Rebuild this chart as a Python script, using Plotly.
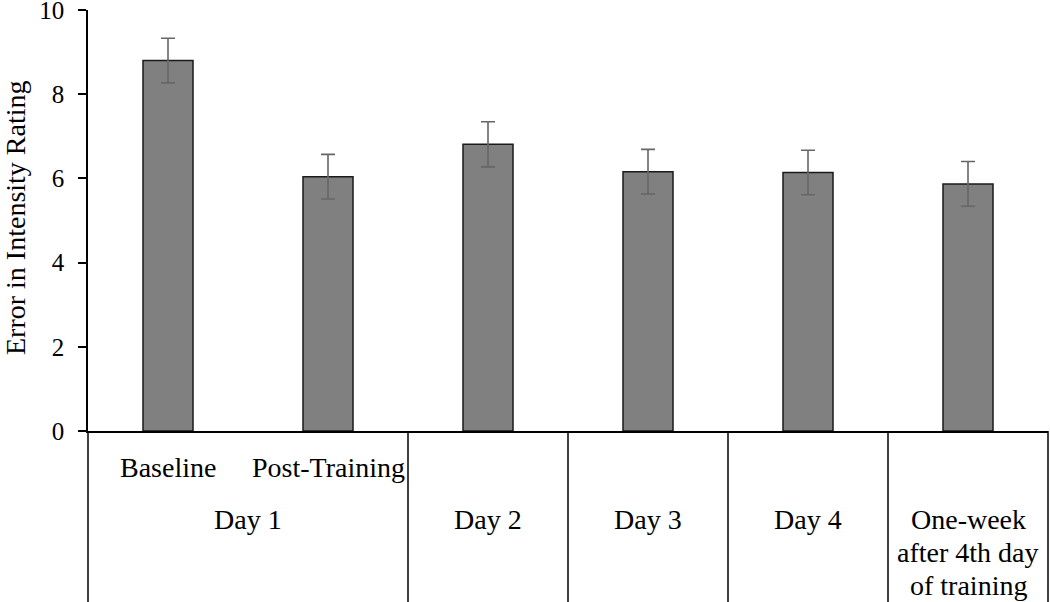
import plotly.graph_objects as go

# Data
conditions = ["Baseline", "Post-Training", "Day 2", "Day 3", "Day 4", "One-week"]
sub_labels = ["Baseline", "Post-Training", "", "", "", ""]
group_labels = ["Day 1", "Day 2", "Day 3", "Day 4", "One-week<br>after 4th day<br>of training"]
group_spans = [[0, 1], [2, 2], [3, 3], [4, 4], [5, 5]]
means = [8.80, 6.04, 6.81, 6.16, 6.14, 5.87]
errors = [0.53, 0.53, 0.535, 0.53, 0.53, 0.53]
y_ticks = [0, 2, 4, 6, 8, 10]
y_title = "Error in Intensity Rating"

FONT = "Liberation Serif, Times New Roman, serif"
n = len(conditions)
xs = list(range(n))

fig = go.Figure()
fig.add_trace(go.Bar(
    x=xs, y=means, width=0.3125,
    marker=dict(color="#808080", line=dict(color="#1a1a1a", width=1.5)),
    error_y=dict(type="data", array=errors, visible=True, color="#666666",
                 thickness=1.6, width=7),
))

ML, MR, MT, MB = 88, 2, 10, 171
FIG_W, FIG_H = 1050, 602
H_PLOT = FIG_H - MT - MB
W_PLOT = FIG_W - ML - MR
bottom_frac = -MB / H_PLOT

shapes = []
boundaries = [-0.5] + [span[1] + 0.5 for span in group_spans]
for b in boundaries:
    xp = (b + 0.5) / n
    shapes.append(dict(type="line", xref="paper", yref="paper", x0=xp, x1=xp,
                       y0=0, y1=bottom_frac, line=dict(color="black", width=1.5)))

lab_font = dict(family=FONT, size=28, color="black")
annotations = []
for i, lab in enumerate(sub_labels):
    if lab:
        annotations.append(dict(x=i, y=-36.0 / H_PLOT, xref="x", yref="paper", text=lab,
                                showarrow=False, font=lab_font,
                                xanchor="center", yanchor="middle"))
line_offsets = [88.0, 121.0, 154.0]
for lab, span in zip(group_labels, group_spans):
    xc = (span[0] + span[1]) / 2
    for k, line in enumerate(lab.split("<br>")):
        annotations.append(dict(x=xc, y=-line_offsets[k] / H_PLOT, xref="x", yref="paper",
                                text=line, showarrow=False, font=lab_font,
                                xanchor="center", yanchor="middle"))
annotations.append(dict(x=(15.0 - ML) / W_PLOT, y=(431.0 - 218.0) / H_PLOT,
                        xref="paper", yref="paper", text=y_title, textangle=-90,
                        showarrow=False, font=lab_font, xanchor="center", yanchor="middle"))

fig.update_layout(
    width=FIG_W, height=FIG_H,
    margin=dict(l=ML, r=MR, t=MT, b=MB, autoexpand=False),
    paper_bgcolor="white", plot_bgcolor="white",
    showlegend=False,
    font=dict(family=FONT, size=25, color="black"),
    shapes=shapes, annotations=annotations,
    xaxis=dict(range=[-0.5, n - 0.5], showticklabels=False, ticks="",
               showline=True, linecolor="black", linewidth=1.5,
               showgrid=False, zeroline=False, automargin=False),
    yaxis=dict(range=[0, 10.0001], tickvals=y_ticks, ticks="outside", ticklen=8,
               tickwidth=1.5, tickcolor="black", showline=True, linecolor="black",
               linewidth=1.5, showgrid=False, zeroline=False, automargin=False,
               ticklabelstandoff=9, ticklabeloverflow="allow",
               tickfont=dict(family=FONT, size=25, color="black")),
)

fig.write_html("out.html", config={"displayModeBar": False},
               post_script="document.body.style.margin='0';document.body.style.overflow='hidden';")
